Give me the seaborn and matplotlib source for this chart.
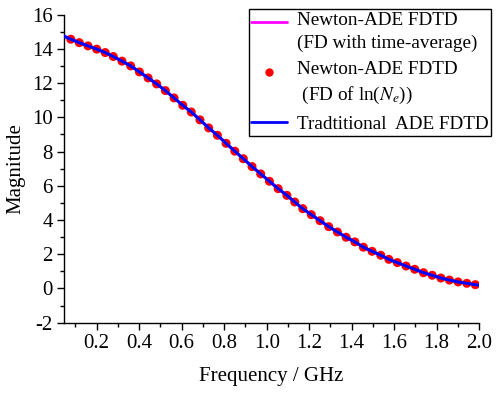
import numpy as np
import pandas as pd
import matplotlib
matplotlib.use("Agg")
import matplotlib.pyplot as plt
import seaborn as sns
from matplotlib.lines import Line2D
from matplotlib.legend_handler import HandlerLine2D
from matplotlib.ticker import MultipleLocator

# ---- data ----
freq_dots = [0.078, 0.118, 0.159, 0.200, 0.240, 0.278, 0.319, 0.360, 0.401, 0.442,
             0.482, 0.523, 0.564, 0.605, 0.645, 0.686, 0.727, 0.768, 0.809, 0.850,
             0.890, 0.931, 0.972, 1.013, 1.054, 1.095, 1.132, 1.170, 1.210, 1.251,
             1.292, 1.333, 1.374, 1.415, 1.455, 1.496, 1.537, 1.575, 1.615, 1.656,
             1.697, 1.738, 1.779, 1.820, 1.860, 1.901, 1.942, 1.982]
mag_dots = [14.56, 14.36, 14.17, 13.98, 13.78, 13.55, 13.28, 13.00, 12.65, 12.30,
            11.95, 11.56, 11.13, 10.70, 10.31, 9.85, 9.38, 8.95, 8.48, 8.02,
            7.58, 7.12, 6.69, 6.26, 5.83, 5.44, 5.05, 4.66, 4.31, 3.96,
            3.61, 3.30, 2.99, 2.72, 2.41, 2.17, 1.94, 1.70, 1.51, 1.31,
            1.12, 0.92, 0.77, 0.61, 0.49, 0.38, 0.30, 0.22]
freq_line = [0.046] + freq_dots + [2.0]
mag_line = [14.74] + mag_dots + [0.19]

xticks = [0.2, 0.4, 0.6, 0.8, 1.0, 1.2, 1.4, 1.6, 1.8, 2.0]
yticks = [-2, 0, 2, 4, 6, 8, 10, 12, 14, 16]

labels = ["Newton-ADE FDTD\n(FD with time-average)",
          "Newton-ADE FDTD\n (FD of ln($\\it{N_e}$))",
          "Tradtitional  ADE FDTD"]

sns.set_theme(style="ticks")
plt.rcParams['font.family'] = ['Liberation Serif', 'DejaVu Serif']
plt.rcParams['mathtext.fontset'] = 'stix'
plt.rcParams['axes.unicode_minus'] = False

df_line = pd.DataFrame({"f": freq_line, "m": mag_line})
df_dots = pd.DataFrame({"f": freq_dots, "m": mag_dots})

fig = plt.figure(figsize=(4.96, 3.94), dpi=100)
ax = fig.add_axes([0.129, 0.181, 0.837, 0.782])

sns.lineplot(data=df_line, x="f", y="m", ax=ax, color="#FF00FF", lw=2.0, zorder=2)
sns.scatterplot(data=df_dots, x="f", y="m", ax=ax, color="#FF0000", s=42,
                edgecolor="none", zorder=3)
sns.lineplot(data=df_line, x="f", y="m", ax=ax, color="#0000FF", lw=2.2, zorder=4)

ax.set_xlim(0.046, 2.0)
ax.set_ylim(-2, 16)
ax.set_xticks(xticks)
ax.set_xticklabels([f"{v:.1f}" for v in xticks])
ax.set_yticks(yticks)
ax.set_yticklabels([str(v) for v in yticks])
ax.xaxis.set_minor_locator(MultipleLocator(0.1))
ax.yaxis.set_minor_locator(MultipleLocator(1))
ax.tick_params(which='major', direction='out', length=5, width=1, labelsize=15,
               color='black', labelcolor='black', pad=3)
ax.tick_params(which='minor', direction='out', length=3, width=1, color='black')
for s in ['top', 'right']:
    ax.spines[s].set_visible(False)
for s in ['left', 'bottom']:
    ax.spines[s].set_color('black')
    ax.spines[s].set_linewidth(1)
ax.set_xlabel("Frequency / GHz", fontsize=15, color='black', labelpad=10)
ax.set_ylabel("Magnitude", fontsize=15, color='black', labelpad=5)


class UpHandler(HandlerLine2D):
    def __init__(self, dy, **kw):
        super().__init__(**kw)
        self.dy = dy

    def create_artists(self, legend, orig_handle, xdescent, ydescent, width,
                       height, fontsize, trans):
        return super().create_artists(legend, orig_handle, xdescent,
                                      ydescent - 2 * self.dy, width, height,
                                      fontsize, trans)


h1 = Line2D([], [], color="#FF00FF", lw=2)
h2 = Line2D([], [], color="#FF0000", marker='o', ls='none', markersize=6,
            markeredgewidth=0)
h3 = Line2D([], [], color="#0000FF", lw=2)
leg = fig.legend([h1, h2, h3], labels, loc='upper right',
                 bbox_to_anchor=(0.99, 0.977), bbox_transform=fig.transFigure,
                 fontsize=13.8, frameon=True, fancybox=False, shadow=False,
                 edgecolor='black', framealpha=1, borderpad=0.15,
                 labelspacing=0.5, handlelength=1.85, handletextpad=0.5,
                 borderaxespad=0,
                 handler_map={h1: UpHandler(7), h2: UpHandler(8)})
leg.get_frame().set_linewidth(1)
for t in leg.get_texts():
    t.set_color('black')
    t.set_linespacing(1.42)

fig.savefig("out.png", dpi=100)
